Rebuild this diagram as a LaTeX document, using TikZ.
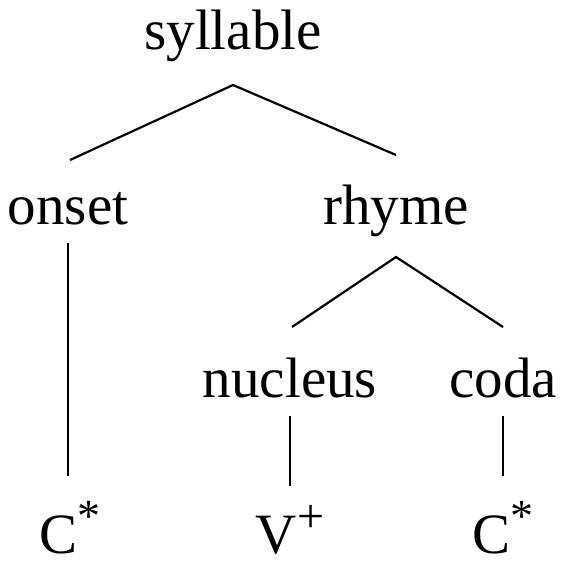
\documentclass[tikz,border=0pt]{standalone}
\usepackage{fontspec}
\setmainfont{Liberation Serif}
\newcommand{\supmark}[3]{\raisebox{#1}{\fontsize{#2}{#2}\selectfont #3}}
\begin{document}
\begin{tikzpicture}[x=1pt,y=-1pt,
  lbl/.style={anchor=base,inner sep=0pt,font=\fontsize{57}{60}\selectfont},
  edge/.style={line width=2.2pt}]
\useasboundingbox (0,0) rectangle (566,567);
\node[lbl] (syl) at (233,50) {syllable};
\node[lbl] (ons) at (68,224) {onset};
\node[lbl] (rhy) at (396,224) {rhyme};
\node[lbl] (nuc) at (290,397) {nucleus};
\node[lbl] (cod) at (503,397) {coda};
\node[lbl] (c1) at (70,553) {C\supmark{22pt}{46}{*}};
\node[lbl] (v) at (290,553) {V\supmark{21pt}{48}{+}};
\node[lbl] (c2) at (503,553) {C\supmark{22pt}{46}{*}};
\coordinate (sylb) at (233,85);
\coordinate (onst) at (70,160);
\coordinate (rhyt) at (396,155);
\coordinate (onsb) at (68,243);
\coordinate (c1t) at (68,476);
\coordinate (rhyb) at (396,257);
\coordinate (nuct) at (292,327);
\coordinate (codt) at (503,327);
\coordinate (nucb) at (290,416);
\coordinate (vt) at (290,486);
\coordinate (codb) at (503,416);
\coordinate (c2t) at (503,476);
\draw[edge] (onst) -- (sylb) -- (rhyt);
\draw[edge] (onsb) -- (c1t);
\draw[edge] (nuct) -- (rhyb) -- (codt);
\draw[edge] (nucb) -- (vt);
\draw[edge] (codb) -- (c2t);
\end{tikzpicture}
\end{document}
